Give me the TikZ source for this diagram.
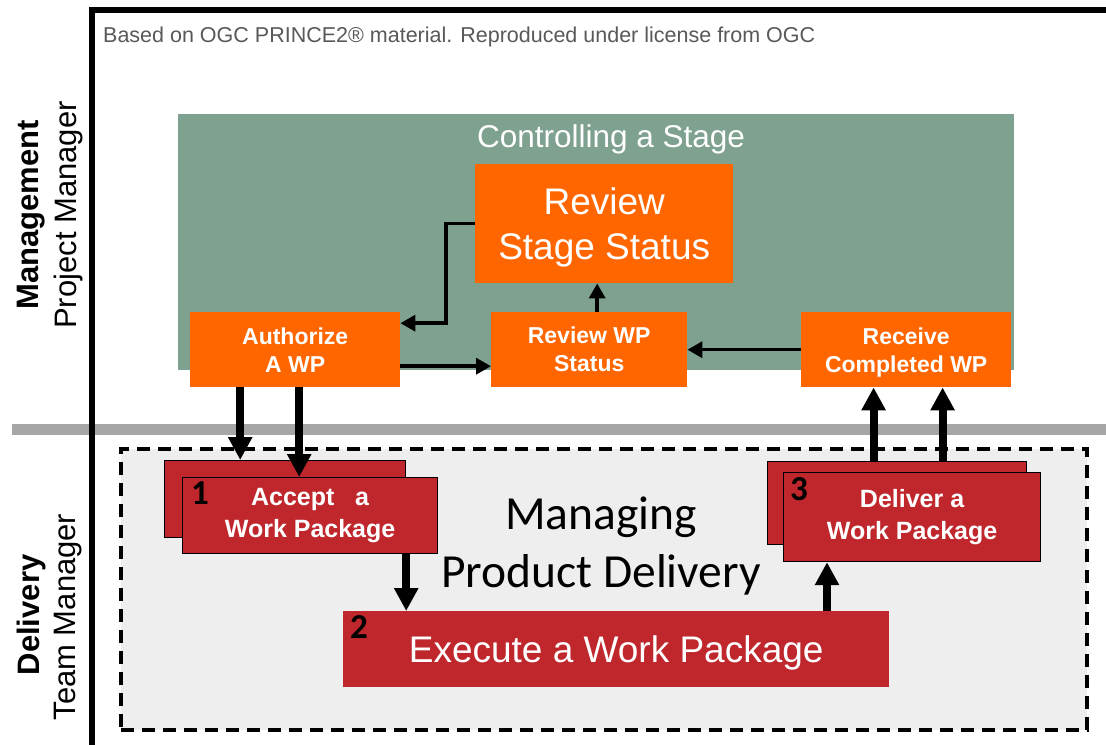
\documentclass[tikz,border=0pt]{standalone}
\usepackage{fontspec}
\setmainfont{Liberation Sans}
\newfontfamily\calibrifont{Carlito}
\usepackage{xcolor}
\usetikzlibrary{arrows.meta,positioning}

\definecolor{stagegreen}{RGB}{127,161,143}
\definecolor{procorange}{RGB}{255,102,0}
\definecolor{procred}{RGB}{192,39,45}
\definecolor{bandgray}{RGB}{166,166,166}
\definecolor{mpdgray}{RGB}{238,238,238}
\definecolor{notegray}{RGB}{89,89,89}
\newcommand{\fsz}[2]{\fontsize{#1bp}{#2bp}\selectfont}

\begin{document}
\begin{tikzpicture}[x=1bp,y=-1bp,
  lane/.style={line width=6bp},
  procbox/.style={anchor=north west,inner sep=0pt,align=center,text=white},
  activity/.style={procbox,fill=procorange,font=\bfseries\fsz{23}{28}},
  wpbox/.style={procbox,fill=procred,draw=black,line width=1.2bp,
                font=\bfseries\fsz{25}{32}},
  stepno/.style={anchor=north west,inner sep=0pt,
                 font=\calibrifont\bfseries\fsz{35}{35}},
  flowarr/.style={-{Triangle[length=15bp,width=16bp]},line width=3.5bp},
  wparr/.style={-{Triangle[length=23bp,width=23bp]},line width=8bp},
  rolelbl/.style={rotate=90,inner sep=0pt,font=\fsz{31}{31}}]
  \useasboundingbox (0,0) rectangle (1106,745);
  \fill[white] (0,0) rectangle (1106,745);

  % swim lanes
  \fill[bandgray] (12,424) rectangle (1106,435);
  \draw[lane] (1106,10) -- (92,10) -- (92,745);
  \node[anchor=base west,inner sep=0pt,text=notegray,font=\fsz{21.5}{21.5}] (note)
       at (103,43) {Based on OGC PRINCE2® material. Reproduced under license from OGC};

  \node[rolelbl,font=\bfseries\fsz{31}{31}] (mgmt) at (31,215) {Management};
  \node[rolelbl] (pm) at (68,215) {Project Manager};
  \node[rolelbl,font=\bfseries\fsz{31}{31}] (dlv) at (31,615) {Delivery};
  \node[rolelbl] (tm) at (68,617) {Team Manager};

  % controlling a stage
  \node[procbox,fill=stagegreen,minimum width=836bp,minimum height=256bp] (cas)
       at (178,114) {};
  \node[text=white,inner sep=0pt,font=\fsz{31.5}{31.5}] (castitle)
       at (611,139) {Controlling a Stage};
  \node[activity,minimum width=258bp,minimum height=119bp,font=\fsz{37}{45},
        text depth=0pt] (rss)
       at (475,164) {Review\\Stage Status};
  \node[activity,minimum width=210bp,minimum height=75bp] (auth)
       at (190,312) {Authorize\\A WP};
  \node[activity,minimum width=196bp,minimum height=75bp] (rwp)
       at (491,312) {Review WP\\Status};
  \node[activity,minimum width=210bp,minimum height=75bp,text depth=0pt] (recv)
       at (801,312) {Receive\\Completed WP};

  % managing product delivery
  \node[procbox,draw=black,fill=mpdgray,line width=4bp,
        dash pattern=on 13bp off 8bp,minimum width=966bp,minimum height=281bp] (mpd)
       at (119,447) {};
  \node[font=\calibrifont\fsz{47.5}{58},align=center,inner sep=0pt] (mpdtitle)
       at (601,546) {Managing\\Product Delivery};

  \node[wpbox,minimum width=241bp,minimum height=77bp] (accB) at (164,460) {};
  \node[wpbox,minimum width=255bp,minimum height=76bp] (accF)
       at (182,477) {Accept~~~a\\Work Package};
  \node[stepno,below right=5bp and 9bp of accF.north west] (n1) {1};

  \node[procbox,fill=procred,minimum width=546bp,minimum height=76bp,
        font=\fsz{37}{37},text depth=0pt] (exe) at (343,611) {Execute a Work Package};
  \node[stepno,below right=4bp and 7bp of exe.north west] (n2) {2};

  \node[wpbox,minimum width=259bp,minimum height=83bp] (dlvB) at (767,461) {};
  \node[wpbox,minimum width=257bp,minimum height=89bp] (dlvF)
       at (783,472) {Deliver a\\Work Package};
  \node[stepno,below right=5bp and 7bp of dlvF.north west] (n3) {3};

  % flows
  \coordinate (rwptop) at ([xshift=8bp]rwp.north);
  \draw[flowarr] (rwptop) -- (rwptop |- rss.south);
  \draw[flowarr] (rss.west) -- ++(-29,0) |- ([yshift=26.5bp]auth.east);
  \draw[flowarr] ([yshift=-16.5bp]auth.east) -- ([yshift=-16.5bp]rwp.west);
  \draw[flowarr] (recv.west) -- (rwp.east);

  \coordinate (authout1) at ([xshift=-55bp]auth.south);
  \coordinate (authout2) at ([xshift=4bp]auth.south);
  \draw[wparr] (authout1) -- (authout1 |- accB.north);
  \draw[wparr] (authout2) -- (authout2 |- accF.north);
  \coordinate (accout) at ([xshift=-32bp]accF.south east);
  \draw[wparr] (accout) -- (accout |- exe.north);
  \coordinate (dlvin) at ([xshift=44bp]dlvF.south west);
  \draw[wparr] (dlvin |- exe.north) -- (dlvin);
  \coordinate (dlvout1) at ([xshift=-23.5bp]dlvB.north);
  \coordinate (dlvout2) at ([xshift=45.5bp]dlvB.north);
  \draw[wparr] (dlvout1) -- (dlvout1 |- recv.south);
  \draw[wparr] (dlvout2) -- (dlvout2 |- recv.south);
\end{tikzpicture}
\end{document}
